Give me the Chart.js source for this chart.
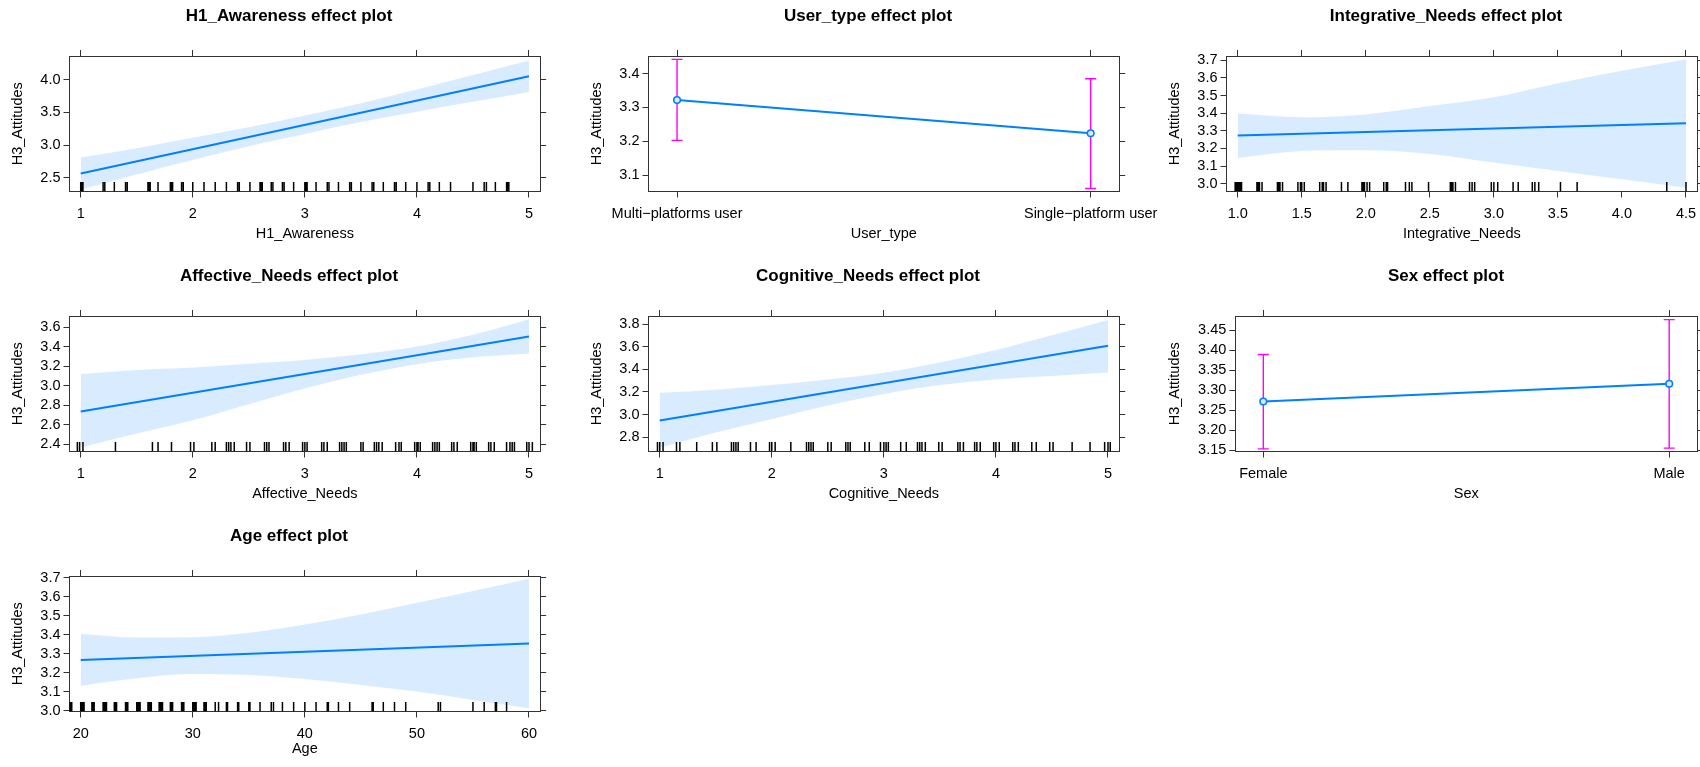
<!DOCTYPE html>
<html><head><meta charset="utf-8">
<script src="https://cdn.jsdelivr.net/npm/chart.js@4.4.1/dist/chart.umd.min.js"></script>
<style>
html,body{margin:0;padding:0;background:#fff;overflow:hidden;width:1700px;height:767px;position:relative}
canvas{position:absolute}
</style></head>
<body>
<canvas id="p1"></canvas><canvas id="p2"></canvas><canvas id="p3"></canvas>
<canvas id="p4"></canvas><canvas id="p5"></canvas><canvas id="p6"></canvas>
<canvas id="p7"></canvas>
<script>
// ---------------- data ----------------
const yTitle = 'H3_Attitudes';

// H1_Awareness
const awarenessX = [1, 1.5, 2, 2.5, 3, 3.5, 4, 4.5, 5];
const awarenessFitX = [1, 5];
const awarenessFit = [2.565, 4.05];
const awarenessUpper = [2.81, 2.95, 3.11, 3.27, 3.45, 3.64, 3.85, 4.07, 4.29];
const awarenessLower = [2.32, 2.55, 2.77, 2.98, 3.17, 3.35, 3.51, 3.66, 3.81];
const awarenessRug = [1.0,1.01,1.02, 1.2,1.215, 1.3, 1.4,1.415, 1.6,1.61,1.62, 1.69, 1.8,1.81,1.82, 1.9,1.915, 2.0, 2.1, 2.2, 2.3,
  2.4,2.415, 2.51, 2.6,2.61,2.62, 2.7,2.715, 2.8,2.815, 2.9, 3.0,3.01,3.02, 3.1, 3.2,3.215, 3.3, 3.4,3.415, 3.5, 3.6,3.615,
  3.7, 3.8,3.815, 3.9, 4.0, 4.1,4.115, 4.2, 4.3, 4.5, 4.6,4.62, 4.7, 4.8,4.81,4.82];
const awarenessXTicks = ['1','2','3','4','5'];
const awarenessYTicks = ['2.5','3.0','3.5','4.0'];

// User_type
const userTypes = ['Multi\u2212platforms user', 'Single\u2212platform user'];
const userTypeFit = [3.322, 3.224];
const userTypeLower = [3.203, 3.061];
const userTypeUpper = [3.442, 3.385];
const userTypeYTicks = ['3.1','3.2','3.3','3.4'];

// Integrative_Needs
const integrativeX = [1.0, 1.5, 2.0, 2.5, 3.0, 3.5, 4.0, 4.5];
const integrativeFitX = [1.0, 4.5];
const integrativeFit = [3.273, 3.343];
const integrativeUpper = [3.398, 3.377, 3.393, 3.44, 3.49, 3.57, 3.64, 3.706];
const integrativeLower = [3.146, 3.185, 3.19, 3.169, 3.12, 3.072, 3.025, 2.977];
const integrativeRug = [0.98,0.99,1.0,1.01,1.02,1.03, 1.15,1.16,1.17,1.19, 1.31,1.32,1.33,1.35, 1.47,1.49,1.5,1.52, 1.64,1.66,1.67,1.69,
  1.81, 1.86, 1.97,1.98,1.99,2.01,2.03, 2.14,2.16,2.17, 2.31,2.34,2.36, 2.49, 2.66,2.67,2.68,2.7, 2.81,2.83,2.85, 2.98,3.0,3.03,
  3.15, 3.19, 3.3,3.32,3.35, 3.52, 3.65, 4.35, 4.5];
const integrativeXTicks = ['1.0','1.5','2.0','2.5','3.0','3.5','4.0','4.5'];
const integrativeYTicks = ['3.0','3.1','3.2','3.3','3.4','3.5','3.6','3.7'];

// Affective_Needs
const affectiveX = [1, 1.5, 2, 2.5, 3, 3.5, 4, 4.5, 5];
const affectiveFitX = [1, 5];
const affectiveFit = [2.735, 3.504];
const affectiveUpper = [3.118, 3.16, 3.186, 3.225, 3.262, 3.32, 3.40, 3.52, 3.68];
const affectiveLower = [2.366, 2.51, 2.646, 2.81, 2.971, 3.11, 3.22, 3.29, 3.33];
const affectiveRug = [0.97,0.99,1.02, 1.31, 1.64, 1.69, 1.81, 1.98,2.01, 2.17,2.2, 2.3,2.32,2.34,2.37, 2.48, 2.51, 2.64,2.66,2.68,
  2.81,2.83,2.86, 2.98,3.0,3.02, 3.15,3.17,3.2, 3.31,3.33,3.35,3.37, 3.5,3.52, 3.62,3.64,3.66,3.69, 3.81,3.84,3.86,
  3.98,4.0,4.01,4.03, 4.14,4.16,4.18,4.2, 4.31,4.33,4.36, 4.48,4.5,4.51,4.53, 4.64,4.66,4.69, 4.8,4.83,4.85,4.87, 4.98,5.0,5.03];
const affectiveXTicks = ['1','2','3','4','5'];
const affectiveYTicks = ['2.4','2.6','2.8','3.0','3.2','3.4','3.6'];

// Cognitive_Needs
const cognitiveX = [1, 1.5, 2, 2.5, 3, 3.5, 4, 4.5, 5];
const cognitiveFitX = [1, 5];
const cognitiveFit = [2.947, 3.608];
const cognitiveUpper = [3.192, 3.22, 3.26, 3.31, 3.369, 3.46, 3.57, 3.70, 3.835];
const cognitiveLower = [2.706, 2.84, 2.96, 3.08, 3.181, 3.26, 3.31, 3.34, 3.372];
const cognitiveRug = [0.98,1.0,1.03, 1.15,1.18, 1.33, 1.47, 1.51, 1.64,1.66,1.68,1.7, 1.81,1.86, 1.98,2.0,2.03, 2.17,
  2.31,2.33,2.35,2.37, 2.5,2.53, 2.66,2.68,2.7, 2.83,2.87, 2.97,3.0,3.02,3.04, 3.15,3.2, 3.3,3.32,3.34,3.37, 3.49,3.52,
  3.66,3.68,3.71, 3.81,3.83,3.86, 3.98,4.0,4.03, 4.15,4.17,4.2, 4.32,4.36, 4.48,4.51, 4.68, 4.84, 4.97,5.0,5.02];
const cognitiveXTicks = ['1','2','3','4','5'];
const cognitiveYTicks = ['2.8','3.0','3.2','3.4','3.6','3.8'];

// Sex
const sexes = ['Female', 'Male'];
const sexFit = [3.272, 3.316];
const sexLower = [3.154, 3.156];
const sexUpper = [3.389, 3.476];
const sexYTicks = ['3.15','3.20','3.25','3.30','3.35','3.40','3.45'];

// Age
const ageX = [20, 25, 30, 35, 40, 45, 50, 55, 60];
const ageFitX = [20, 60];
const ageFit = [3.266, 3.353];
const ageUpper = [3.405, 3.385, 3.386, 3.41, 3.453, 3.506, 3.568, 3.63, 3.695];
const ageLower = [3.13, 3.17, 3.192, 3.187, 3.166, 3.135, 3.10, 3.056, 3.012];
const ageRug = [19.0,19.1,19.2, 20,20.1,20.2,20.3, 21,21.1,21.2, 22,22.1,22.2,22.3, 23,23.1,23.2, 24,24.1,24.2,
  25,25.1,25.2,25.3, 26,26.1,26.2,26.3, 27,27.1,27.2,27.3, 28,28.1,28.2, 29,29.1,29.2, 30,30.1,30.2,30.3,
  31,31.1,31.2, 32,32.3, 33,33.1, 34,34.1, 35,35.1, 36, 37,37.2, 38, 39, 40, 41, 42,42.1, 43, 44, 46,46.1, 47, 48, 49,
  51.9,52.1, 55, 56, 57,57.1, 58];
const ageXTicks = ['20','30','40','50','60'];
const ageYTicks = ['3.0','3.1','3.2','3.3','3.4','3.5','3.6','3.7'];

// ---------------- styling / layout ----------------
const FONT = "'Liberation Sans', Arial, Helvetica, sans-serif";
const LINE = '#0080FF';
const BAND = 'rgba(0,128,255,0.15)';
const BAR = '#FF00FF';
const AXIS = '#333333';
const COLS = [0, 578.7, 1157.4];
const ROWS = [0, 260, 520];
const M = 40;                      // extra canvas margin on each side (keeps titles centred)
const W = 578, H = 260;
const BOX_T = 56, BOX_B = 191.5, BOX_R = 540.2;
const TITLE_SIZE = 17, TITLE_PAD = 6.6;
const TITLE_H = TITLE_PAD + TITLE_SIZE * 1.2;
const TICK_SIZE = 14.5, LAB_SIZE = 14.5;

const rugPlugin = {
  id: 'rug',
  afterDatasetsDraw(chart, args, opts) {
    if (!opts.values) return;
    const {ctx, chartArea, scales} = chart;
    ctx.save();
    ctx.beginPath();
    ctx.rect(chartArea.left, chartArea.top, chartArea.width, chartArea.height);
    ctx.clip();
    ctx.strokeStyle = '#000';
    ctx.lineWidth = 1.5;
    ctx.beginPath();
    for (const v of opts.values) {
      const x = scales.x.getPixelForValue(v);
      ctx.moveTo(x, chartArea.bottom);
      ctx.lineTo(x, chartArea.bottom - opts.length);
    }
    ctx.stroke();
    ctx.restore();
  }
};

const pts = (xs, ys) => xs.map((x, i) => ({x, y: ys[i]}));
const setTicks = vals => s => { s.ticks = vals.map(v => ({value: v})); };

function bandDatasets(xs, fitX, fit, upper, lower) {
  return [
    {data: pts(fitX, fit), borderColor: LINE, borderWidth: 2, pointRadius: 0, fill: false},
    {data: pts(xs, upper), borderColor: 'rgba(0,0,0,0)', borderWidth: 0, pointRadius: 0, fill: false, cubicInterpolationMode: 'monotone'},
    {data: pts(xs, lower), borderColor: 'rgba(0,0,0,0)', borderWidth: 0, pointRadius: 0, fill: '-1', backgroundColor: BAND, cubicInterpolationMode: 'monotone'}
  ];
}

function barDatasets(fit, lower, upper) {
  const xs = fit.map((v, i) => i + 1);
  const ds = [{data: pts(xs, fit), borderColor: LINE, borderWidth: 2, pointRadius: 3.3, pointBorderWidth: 1.6,
               pointBackgroundColor: '#dcecff', pointBorderColor: LINE, fill: false}];
  xs.forEach((x, i) => ds.push({data: [{x, y: lower[i]}, {x, y: upper[i]}], borderColor: BAR, borderWidth: 1.4,
    pointStyle: 'line', pointRadius: 5.5, pointBorderWidth: 1.4, pointBorderColor: BAR, fill: false}));
  return ds;
}

function panel(p) {
  const c = document.getElementById(p.id);
  c.width = W + 2 * M; c.height = H;
  c.style.left = (COLS[p.col] - M) + 'px';
  c.style.top = ROWS[p.row] + 'px';
  const xVals = p.xVals, yVals = p.yTicks.map(Number);
  const grid = {display: true, drawOnChartArea: false, drawTicks: true, tickLength: 6, tickWidth: 1, color: AXIS};
  const border = {display: true, color: AXIS, width: 1};
  const tickFont = {family: FONT, size: TICK_SIZE};
  const titleFont = {family: FONT, size: LAB_SIZE};
  const xTitleY = p.xTitleY || 234;
  new Chart(c, {
    type: 'line',
    data: {datasets: p.datasets},
    options: {
      responsive: false, animation: false, events: [],
      layout: {padding: 0},
      scales: {
        x: {type: 'linear', position: 'bottom', min: p.xMin, max: p.xMax, bounds: 'data',
            afterBuildTicks: setTicks(xVals), grid, border,
            ticks: {autoSkip: false, maxRotation: 0, padding: 7.5, color: '#000', font: tickFont,
                    callback: (v, i) => p.xLabels[i]},
            title: {display: true, text: p.xTitle, color: '#000', font: titleFont,
                    padding: {top: 0, bottom: H - xTitleY - LAB_SIZE * 0.6}},
            afterFit: s => { s.height = H - BOX_B; }},
        x2: {type: 'linear', position: 'top', min: p.xMin, max: p.xMax, bounds: 'data',
             afterBuildTicks: setTicks(xVals), grid, border, ticks: {display: false},
             afterFit: s => { s.height = BOX_T - TITLE_H; }},
        y: {type: 'linear', position: 'left', min: p.yMin, max: p.yMax, bounds: 'data',
            afterBuildTicks: setTicks(yVals), grid, border,
            ticks: {autoSkip: false, padding: 3, color: '#000', font: tickFont, callback: (v, i) => p.yTicks[i]},
            title: {display: true, text: yTitle, color: '#000', font: titleFont, padding: {top: 9 + M, bottom: 0}},
            afterFit: s => { s.width = p.boxL + M; }},
        y2: {type: 'linear', position: 'right', min: p.yMin, max: p.yMax, bounds: 'data',
             afterBuildTicks: setTicks(yVals), grid, border, ticks: {display: false},
             afterFit: s => { s.width = W - BOX_R + M; }}
      },
      plugins: {
        legend: {display: false}, tooltip: {enabled: false},
        title: {display: true, text: p.title, color: '#000', font: {family: FONT, size: TITLE_SIZE, weight: 'bold'},
                padding: {top: TITLE_PAD, bottom: 0}},
        rug: {values: p.rug || null, length: 9.5}
      }
    },
    plugins: [rugPlugin]
  });
}

panel({id: 'p1', col: 0, row: 0, title: 'H1_Awareness effect plot', xTitle: 'H1_Awareness',
  xMin: 0.9, xMax: 5.1, xVals: awarenessXTicks.map(Number), xLabels: awarenessXTicks,
  yMin: 2.29, yMax: 4.36, yTicks: awarenessYTicks, boxL: 69.5, rug: awarenessRug,
  datasets: bandDatasets(awarenessX, awarenessFitX, awarenessFit, awarenessUpper, awarenessLower)});

panel({id: 'p2', col: 1, row: 0, title: 'User_type effect plot', xTitle: 'User_type',
  xMin: 0.931, xMax: 2.069, xVals: userTypes.map((c, i) => i + 1), xLabels: userTypes,
  yMin: 3.052, yMax: 3.452, yTicks: userTypeYTicks, boxL: 69.5,
  datasets: barDatasets(userTypeFit, userTypeLower, userTypeUpper)});

panel({id: 'p3', col: 2, row: 0, title: 'Integrative_Needs effect plot', xTitle: 'Integrative_Needs',
  xMin: 0.9125, xMax: 4.5875, xVals: integrativeXTicks.map(Number), xLabels: integrativeXTicks,
  yMin: 2.956, yMax: 3.724, yTicks: integrativeYTicks, boxL: 69.5, rug: integrativeRug,
  datasets: bandDatasets(integrativeX, integrativeFitX, integrativeFit, integrativeUpper, integrativeLower)});

panel({id: 'p4', col: 0, row: 1, title: 'Affective_Needs effect plot', xTitle: 'Affective_Needs',
  xMin: 0.9, xMax: 5.1, xVals: affectiveXTicks.map(Number), xLabels: affectiveXTicks,
  yMin: 2.325, yMax: 3.713, yTicks: affectiveYTicks, boxL: 69.5, rug: affectiveRug,
  datasets: bandDatasets(affectiveX, affectiveFitX, affectiveFit, affectiveUpper, affectiveLower)});

panel({id: 'p5', col: 1, row: 1, title: 'Cognitive_Needs effect plot', xTitle: 'Cognitive_Needs',
  xMin: 0.9, xMax: 5.1, xVals: cognitiveXTicks.map(Number), xLabels: cognitiveXTicks,
  yMin: 2.673, yMax: 3.871, yTicks: cognitiveYTicks, boxL: 69.5, rug: cognitiveRug,
  datasets: bandDatasets(cognitiveX, cognitiveFitX, cognitiveFit, cognitiveUpper, cognitiveLower)});

panel({id: 'p6', col: 2, row: 1, title: 'Sex effect plot', xTitle: 'Sex',
  xMin: 0.931, xMax: 2.069, xVals: sexes.map((c, i) => i + 1), xLabels: sexes,
  yMin: 3.1475, yMax: 3.485, yTicks: sexYTicks, boxL: 78.3,
  datasets: barDatasets(sexFit, sexLower, sexUpper)});

panel({id: 'p7', col: 0, row: 2, title: 'Age effect plot', xTitle: 'Age', xTitleY: 229,
  xMin: 19, xMax: 61, xVals: ageXTicks.map(Number), xLabels: ageXTicks,
  yMin: 2.995, yMax: 3.709, yTicks: ageYTicks, boxL: 69.5, rug: ageRug,
  datasets: bandDatasets(ageX, ageFitX, ageFit, ageUpper, ageLower)});
</script>
</body></html>
